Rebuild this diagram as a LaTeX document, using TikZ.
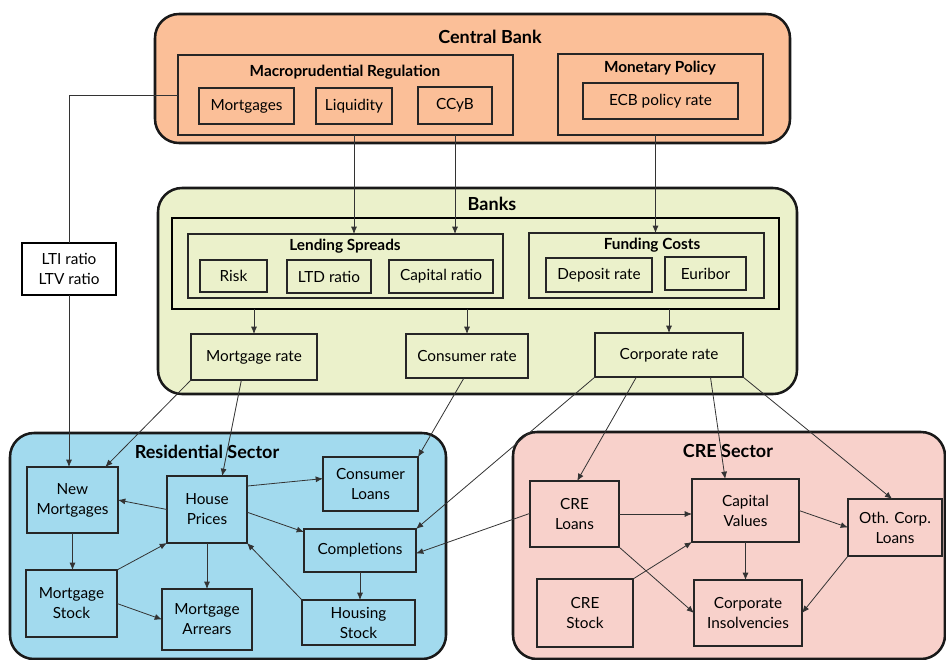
\documentclass[tikz,border=0pt]{standalone}
\usepackage{fontspec}
\setmainfont{Lato}
\usetikzlibrary{arrows.meta,calc}
\definecolor{cbfill}{HTML}{FBBF98}
\definecolor{bkfill}{HTML}{EBF1CB}
\definecolor{resfill}{HTML}{A2DAEE}
\definecolor{crefill}{HTML}{F8D1CB}
\newcommand\bx[7][]{\node[box,#1,minimum width={(#5-#3)*0.75pt},minimum height={(#6-#4)*0.75pt}] (#2) at ({(#3+#5)/2},{(#4+#6)/2}) {#7};}
\begin{document}
\begin{tikzpicture}[x=0.75pt,y=-0.75pt,
 box/.style={draw=black!85, line width=0.8pt, inner sep=0pt, outer sep=0pt, align=center, font=\fontsize{11.5}{15}\selectfont},
 sector/.style={draw=black!90, line width=1.9pt, rounded corners=18pt},
 grp/.style={draw=black!85, line width=0.8pt},
 title/.style={font=\bfseries\fontsize{13.5}{15}\selectfont, inner sep=0pt},
 subtitle/.style={font=\bfseries\fontsize{11.5}{13}\selectfont, inner sep=0pt},
 arr/.style={-{Latex[length=5.5pt,width=4.5pt]}, line width=0.6pt, draw=black!80},
 ln/.style={line width=0.6pt, draw=black!80}]
\useasboundingbox (0,0) rectangle (946,660);
% sectors
\bx[sector,fill=cbfill]{cb}{155}{14}{790}{143}{}
\bx[sector,fill=bkfill]{bk}{158}{188}{797}{394}{}
\bx[sector,fill=resfill]{res}{10}{433}{446}{659}{}
\bx[sector,fill=crefill]{cre}{513}{432}{945}{659}{}
% central bank
\bx[grp]{macro}{178}{55}{513}{135}{}
\bx{mort}{199}{88}{294}{124}{Mortgages}
\bx{liq}{316}{88}{392}{124}{Liquidity}
\bx{ccyb}{418}{87}{492}{124}{CCyB}
\bx[grp]{mp}{558}{54}{763}{135}{}
\bx{ecb}{583}{83}{738}{119}{ECB policy rate}
\node[title] (cbt) at (490,37) {Central Bank};
\node[subtitle] (macrot) at (345,72) {Macroprudential Regulation};
\node[subtitle] (mpt) at (660,68) {Monetary Policy};
% LTI
\bx[fill=white,line width=1pt,draw=black]{lti}{22}{243}{116}{295}{LTI ratio\\LTV ratio}
% banks
\bx[grp,line width=1.5pt,draw=black]{inner}{172}{218}{779}{309}{}
\bx[grp]{ls}{188}{234}{503}{298}{}
\bx{risk}{200}{260}{267}{292}{Risk}
\bx{ltd}{287}{260}{371}{293}{LTD ratio}
\bx{cap}{389}{260}{493}{293}{Capital ratio}
\bx[grp]{fc}{529}{233}{764}{298}{}
\bx{dep}{546}{258}{652}{292}{Deposit rate}
\bx{eur}{665}{257}{746}{290}{Euribor}
\bx{mr}{191}{334}{317}{380}{Mortgage rate}
\bx{cr}{406}{334}{528}{378}{Consumer rate}
\bx{corp}{595}{333}{743}{377}{Corporate rate}
\node[title] (bkt) at (492,204) {Banks};
\node[subtitle] (lst) at (345,246) {Lending Spreads};
\node[subtitle] (fct) at (652,245) {Funding Costs};
% residential
\bx{nm}{27}{467}{118}{533}{New\\Mortgages}
\bx{hp}{167}{476}{247}{543}{House\\Prices}
\bx{cl}{323}{457}{418}{511}{Consumer\\Loans}
\bx{comp}{304}{529}{416}{572}{Completions}
\bx{ms}{26}{570}{117}{637}{Mortgage\\Stock}
\bx{ma}{162}{589}{252}{650}{Mortgage\\Arrears}
\bx{hs}{302}{600}{415}{645}{Housing\\Stock}
\node[title] (rest) at (207,452) {Residential Sector};
% CRE
\bx{crel}{530}{481}{619}{547}{CRE\\Loans}
\bx{cv}{692}{479}{799}{542}{Capital\\Values}
\bx{ocl}{848}{499}{942}{556}{Oth. Corp.\\Loans}
\bx{cs}{537}{579}{633}{647}{CRE\\Stock}
\bx{ci}{694}{580}{802}{646}{Corporate\\Insolvencies}
\node[title] (cret) at (728,451) {CRE Sector};
% connectors
\draw[ln] (macro.west) -| (lti.north);
\draw[arr] (lti.south) -- (lti.south |- nm.north);
\draw[arr] (liq.south |- macro.south) -- (liq.south |- ls.north);
\draw[arr] (ccyb.south |- macro.south) -- (ccyb.south |- ls.north);
\coordinate (ecbx) at ($(mp.south)+(-5,0)$);
\draw[arr] (ecbx) -- (ecbx |- fc.north);
\draw[arr] (mr.north |- inner.south) -- (mr.north);
\draw[arr] (cr.north |- inner.south) -- (cr.north);
\draw[arr] (corp.north |- inner.south) -- (corp.north);
\draw[arr] (mr.south west) -- ($(nm.north west)!0.86!(nm.north east)$);
\draw[arr] ($(mr.south west)!0.4!(mr.south east)$) -- ($(hp.north west)!0.69!(hp.north east)$);
\draw[arr] ($(cr.south west)!0.475!(cr.south east)$) -- (cl.north east);
\draw[arr] (corp.south west) -- (comp.north east);
\draw[arr] ($(corp.south west)!0.28!(corp.south east)$) -- ($(crel.north west)!0.53!(crel.north east)$);
\draw[arr] ($(corp.south west)!0.78!(corp.south east)$) -- ($(cv.north west)!0.31!(cv.north east)$);
\draw[arr] (corp.south east) -- ($(ocl.north west)!0.47!(ocl.north east)$);
\draw[arr] ($(crel.north west)!0.49!(crel.south west)$) -- ($(comp.north east)!0.57!(comp.south east)$);
\draw[arr] (hp.west) -- (nm.east);
\draw[arr] ($(hp.north east)!0.15!(hp.south east)$) -- ($(cl.north west)!0.4!(cl.south west)$);
\draw[arr] ($(hp.north east)!0.54!(hp.south east)$) -- ($(comp.north west)!0.07!(comp.south west)$);
\draw[arr] (nm.south) -- (nm.south |- ms.north);
\draw[arr] (ms.north east) -- (hp.south west);
\draw[arr] (ms.east) -- (ma.west);
\draw[arr] (hp.south) -- (hp.south |- ma.north);
\draw[arr] (comp.south) -- (comp.south |- hs.north);
\draw[arr] (hs.north west) -- (hp.south east);
\draw[arr] (crel.east) -- (crel.east -| cv.west);
\draw[arr] (crel.south east) -- (ci.west);
\draw[arr] (cs.north east) -- (cv.south west);
\draw[arr] (cv.east) -- (ocl.west);
\draw[arr] (cv.south) -- (cv.south |- ci.north);
\draw[arr] (ocl.south west) -- (ci.east);
\end{tikzpicture}
\end{document}
